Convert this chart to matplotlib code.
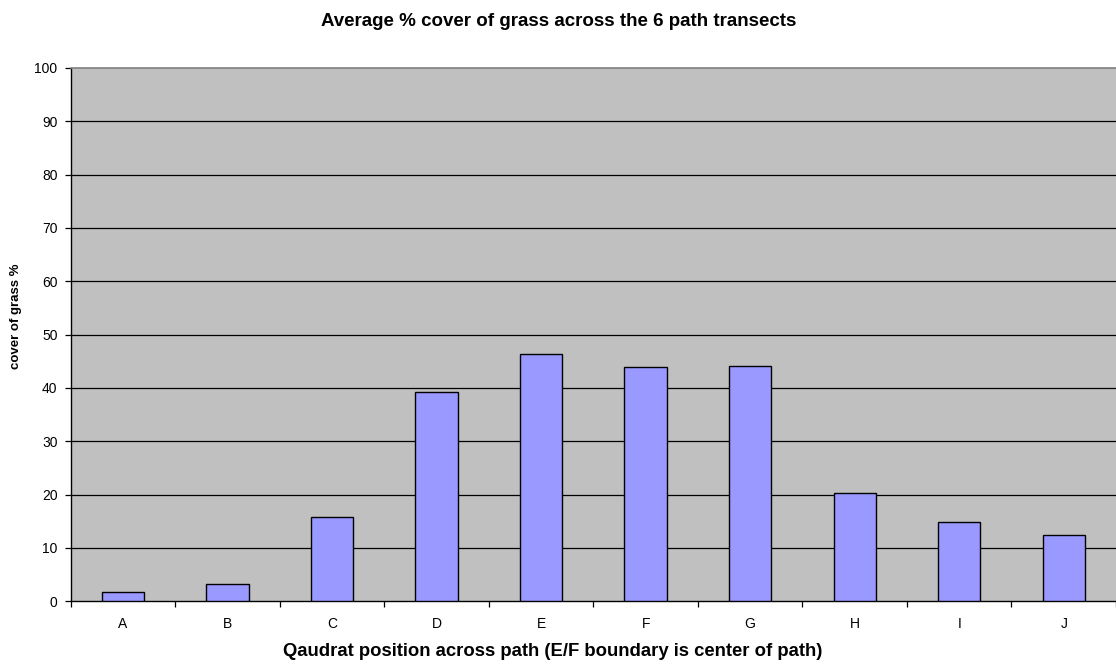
import matplotlib
matplotlib.use("Agg")
import matplotlib.pyplot as plt

positions = ["A", "B", "C", "D", "E", "F", "G", "H", "I", "J"]
grass_cover = [1.7, 3.3, 15.8, 39.3, 46.3, 44.0, 44.2, 20.4, 14.9, 12.5]
y_ticks = [0, 10, 20, 30, 40, 50, 60, 70, 80, 90, 100]

plt.rcParams["font.family"] = ["Liberation Sans", "DejaVu Sans"]

W, H = 1116, 666
fig = plt.figure(figsize=(W / 100, H / 100), dpi=100)
ax = fig.add_axes([0.0634, 0.0971, 0.9366, 0.801])
ax.set_facecolor("#C0C0C0")

x = list(range(len(positions)))
ax.bar(x, grass_cover, width=0.405, color="#9999FF", edgecolor="black",
       linewidth=1.0, zorder=3)

ax.set_xlim(-0.5, len(positions) - 0.5)
ax.set_ylim(0, 100)
ax.set_yticks(y_ticks)
ax.set_yticklabels([str(v) for v in y_ticks], fontsize=10)
for v in y_ticks[1:-1]:
    ax.axhline(v, color="black", linewidth=0.9, zorder=1)

ax.set_xticks(x)
ax.set_xticklabels(positions, fontsize=10)
ax.tick_params(axis="x", length=0, pad=11)
ax.set_xticks([i + 0.5 for i in range(-1, len(positions))], minor=True)
ax.tick_params(axis="x", which="minor", length=4, width=0.9, direction="out")
ax.tick_params(axis="y", length=4, width=0.9, direction="out", pad=5.5)

ax.spines["top"].set_color("#808080")
ax.spines["top"].set_linewidth(1.2)
ax.spines["right"].set_visible(False)
ax.spines["left"].set_linewidth(1.0)
ax.spines["bottom"].set_linewidth(1.0)

fig.text(559 / W, 1 - 22 / H,
         "Average % cover of grass across the 6 path transects",
         fontsize=13.5, fontweight="bold", ha="center", va="center")
fig.text(553 / W, 1 - 652 / H,
         "Qaudrat position across path (E/F boundary is center of path)",
         fontsize=13.3, fontweight="bold", ha="center", va="center")
fig.text(16 / W, 1 - 316 / H, "cover of grass %",
         fontsize=9.5, fontweight="bold", ha="center", va="center",
         rotation=90)

fig.savefig("out.png", dpi=100)
